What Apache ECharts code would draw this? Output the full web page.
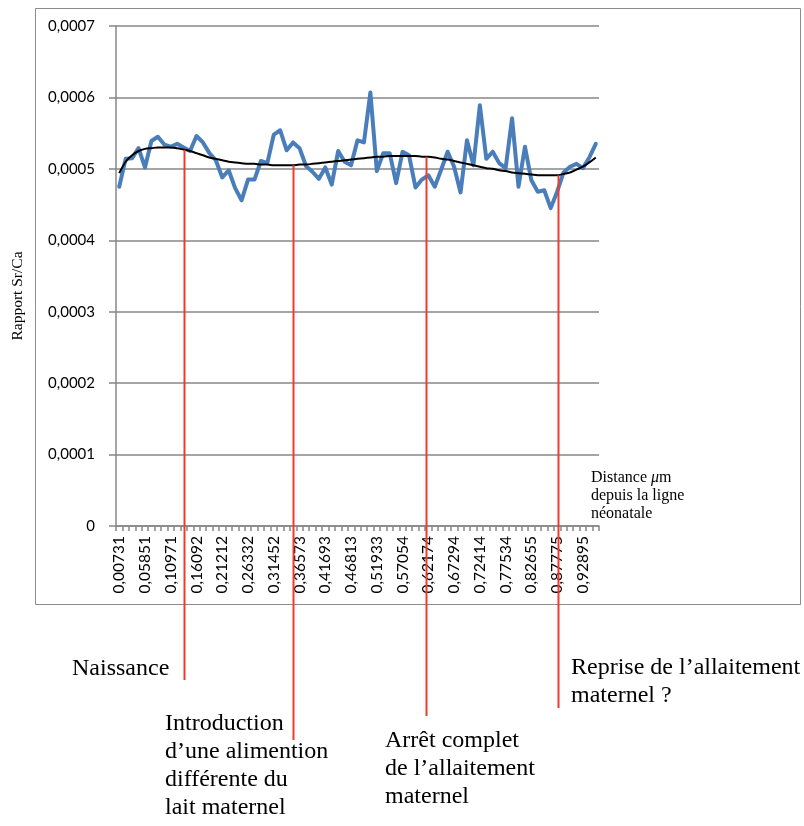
<!DOCTYPE html>
<html><head><meta charset="utf-8">
<script src="https://cdn.jsdelivr.net/npm/echarts@6/dist/echarts.min.js"></script>
<style>html,body{margin:0;padding:0;background:#fff}#c{width:804px;height:826px}</style>
</head><body><div id="c"></div>
<script>
// Distance (µm) from the neonatal line — category labels
const categories = [
'0,00731','0,02011','0,03291','0,04571','0,05851','0,07131','0,08411','0,09691','0,10971','0,12252',
'0,13532','0,14812','0,16092','0,17372','0,18652','0,19932','0,21212','0,22492','0,23772','0,25052',
'0,26332','0,27612','0,28892','0,30172','0,31452','0,32733','0,34013','0,35293','0,36573','0,37853',
'0,39133','0,40413','0,41693','0,42973','0,44253','0,45533','0,46813','0,48093','0,49373','0,50653',
'0,51933','0,53213','0,54494','0,55774','0,57054','0,58334','0,59614','0,60894','0,62174','0,63454',
'0,64734','0,66014','0,67294','0,68574','0,69854','0,71134','0,72414','0,73694','0,74974','0,76255',
'0,77534','0,78815','0,80095','0,81375','0,82655','0,83935','0,85215','0,86495','0,87775','0,89055',
'0,90335','0,91615','0,92895','0,94175','0,95455'
];
// Sr/Ca ratio
const srCa = [
0.000475,0.000514,0.000515,0.000529,0.000502,0.000539,0.000545,0.000534,0.000531,0.000535,
0.000530,0.000525,0.000546,0.000537,0.000522,0.000512,0.000488,0.000498,0.000473,0.000456,
0.000485,0.000485,0.000511,0.000508,0.000548,0.000554,0.000526,0.000537,0.000529,0.000504,
0.000496,0.000486,0.000502,0.000478,0.000525,0.000510,0.000505,0.000540,0.000537,0.000607,
0.000497,0.000522,0.000522,0.000480,0.000524,0.000519,0.000474,0.000485,0.000491,0.000475,
0.000499,0.000524,0.000503,0.000467,0.000540,0.000505,0.000589,0.000514,0.000524,0.000508,
0.000501,0.000571,0.000475,0.000531,0.000484,0.000468,0.000470,0.000445,0.000468,0.000495,
0.000503,0.000507,0.000501,0.000516,0.000535
];
// Polynomial trend line
const trend = [
0.000494,0.000510,0.000519,0.000525,0.000528,0.000529,0.000530,0.000530,0.000530,0.000529,
0.000527,0.000525,0.000522,0.000519,0.000516,0.000514,0.000512,0.000510,0.000509,0.000508,
0.000507,0.000507,0.000506,0.000506,0.000505,0.000505,0.000505,0.000505,0.000506,0.000506,
0.000507,0.000508,0.000509,0.000510,0.000511,0.000512,0.000513,0.000514,0.000515,0.000516,
0.000517,0.000517,0.000518,0.000518,0.000518,0.000518,0.000518,0.000517,0.000517,0.000516,
0.000514,0.000513,0.000511,0.000509,0.000507,0.000505,0.000503,0.000501,0.000500,0.000498,
0.000497,0.000495,0.000494,0.000493,0.000492,0.000491,0.000491,0.000491,0.000491,0.000493,
0.000495,0.000499,0.000503,0.000509,0.000516
];
const yTickLabels = ['0','0,0001','0,0002','0,0003','0,0004','0,0005','0,0006','0,0007'];
// Events: position as (fractional) category index along the distance axis
const eventPos = [10.05, 26.95, 47.6, 68.1];
const eventText = [
  'Naissance',
  'Introduction\nd\u2019une alimention\ndiff\u00e9rente du\nlait maternel',
  'Arr\u00eat complet\nde l\u2019allaitement\nmaternel',
  'Reprise de l\u2019allaitement\nmaternel ?'
];
const yAxisTitle = 'Rapport Sr/Ca';
const xAxisTitle = '{t|Distance }{m|\u03bc}{t|m}\n{t|depuis la ligne}\n{t|n\u00e9onatale}';

const chart = echarts.init(document.getElementById('c'), null, {renderer:'canvas'});
const grey = '#878787';
chart.setOption({
  animation:false,
  grid:{left:116, top:26, right:205, bottom:300, containLabel:false},
  xAxis:{type:'category', data:categories, boundaryGap:true,
    axisLine:{lineStyle:{color:grey, width:1.5}},
    axisTick:{show:true, interval:0, length:5, lineStyle:{color:grey, width:1.5}},
    axisLabel:{interval:3, rotate:90, fontFamily:'Lato', fontSize:15.5, color:'#000', margin:10},
    splitLine:{show:false}},
  yAxis:{type:'value', min:0, max:0.0007, interval:0.0001,
    axisLine:{show:true, lineStyle:{color:grey, width:1.5}},
    axisTick:{show:true, length:7, lineStyle:{color:grey, width:1.5}},
    axisLabel:{formatter:v=>yTickLabels[Math.round(v/0.0001)], fontFamily:'Lato', fontSize:15, color:'#000', margin:21},
    splitLine:{lineStyle:{color:grey, width:1.5}}},
  series:[
    {type:'line', data:srCa, symbol:'none', lineStyle:{color:'#4a7ebb', width:4, join:'round', cap:'round'}, z:2},
    {type:'line', data:trend, symbol:'none', smooth:0.3, lineStyle:{color:'#000', width:2}, z:3}
  ]
});

function xAt(idx){
  const i0 = Math.floor(idx), f = idx - i0;
  const a = chart.convertToPixel({xAxisIndex:0}, i0);
  const b = chart.convertToPixel({xAxisIndex:0}, Math.min(i0+1, categories.length-1));
  return a + (b-a)*f;
}
function trendAt(idx){
  const i0 = Math.floor(idx), f = idx - i0;
  const v = trend[i0] + (trend[Math.min(i0+1,trend.length-1)] - trend[i0])*f;
  return chart.convertToPixel({yAxisIndex:0}, v);
}
const lineBottoms = [680, 740, 716, 708];
const textPos = [[72,655],[165,710],[385,727],[571,654]];
const red = '#f23a2c';
const graphics = [
  {type:'rect', shape:{x:35.5, y:8.5, width:765, height:596}, style:{fill:'none', stroke:'#8c8c8c', lineWidth:1}, z:0, silent:true},
  {type:'text', x:18, y:296, rotation:Math.PI/2, style:{text:yAxisTitle, font:'15.5px "Liberation Serif"', fill:'#000', textAlign:'center', textVerticalAlign:'middle'}, z:10},
  {type:'text', x:591, y:469, style:{text:xAxisTitle, rich:{t:{font:'16px "Liberation Serif"', fill:'#000', lineHeight:18}, m:{font:'italic 16px "Liberation Serif"', fill:'#000', lineHeight:18}}, textAlign:'left', textVerticalAlign:'top'}, z:10}
];
eventPos.forEach((p,k)=>{
  const x = Math.round(xAt(p)) + 0.5;
  graphics.push({type:'line', shape:{x1:x, y1:trendAt(p), x2:x, y2:lineBottoms[k]}, style:{stroke:red, lineWidth:2}, z:20, silent:true});
  graphics.push({type:'text', x:textPos[k][0], y:textPos[k][1], style:{text:eventText[k], font:'24px "Liberation Serif"', fill:'#000', lineHeight:28, textAlign:'left', textVerticalAlign:'top'}, z:10});
});
chart.setOption({graphic:graphics});
</script>
</body></html>
